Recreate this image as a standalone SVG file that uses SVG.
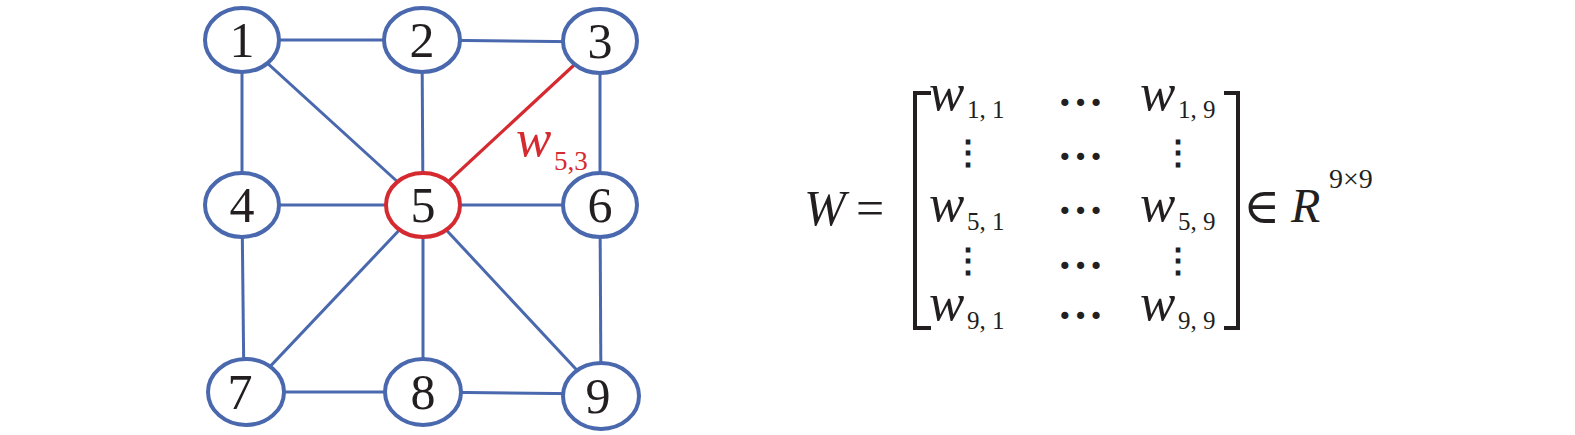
<svg xmlns="http://www.w3.org/2000/svg" width="1575" height="435" viewBox="0 0 1575 435">
<style>
.edge{stroke:#4a68ae;stroke-width:3;fill:none}
.red{stroke:#d42a30;stroke-width:3.2;fill:none}
.node{fill:#fff;stroke:#4a68ae;stroke-width:4}
.nodeR{fill:#fff;stroke:#d42a30;stroke-width:4}
.num{font-size:50px;fill:#231f20;text-anchor:middle}
.it{font-style:italic;fill:#231f20}
.rm{fill:#231f20}
.br{stroke:#231f20;stroke-width:4;fill:none}
</style>
<rect width="1575" height="435" fill="#fff"/>
<g font-family="Liberation Serif, Times New Roman, DejaVu Serif, serif">
<g id="connectors">
<line class="edge" x1="242" y1="40" x2="422" y2="40"/>
<line class="edge" x1="422" y1="40" x2="600" y2="42"/>
<line class="edge" x1="242" y1="40" x2="242" y2="205"/>
<line class="edge" x1="242" y1="40" x2="423" y2="205"/>
<line class="edge" x1="422" y1="40" x2="423" y2="205"/>
<line class="edge" x1="600" y1="41" x2="600" y2="205"/>
<line class="edge" x1="242" y1="205" x2="423" y2="205"/>
<line class="edge" x1="423" y1="205" x2="600" y2="205"/>
<line class="edge" x1="242" y1="205" x2="244" y2="392"/>
<line class="edge" x1="423" y1="205" x2="246" y2="392"/>
<line class="edge" x1="423" y1="205" x2="423" y2="392"/>
<line class="edge" x1="423" y1="205" x2="601" y2="396"/>
<line class="edge" x1="600" y1="205" x2="601" y2="396"/>
<line class="edge" x1="246" y1="392" x2="423" y2="392"/>
<line class="edge" x1="423" y1="392" x2="601" y2="394"/>
<line class="red" x1="600" y1="41" x2="423" y2="205"/>
<text x="516" y="156" font-size="53" font-style="italic" fill="#d42a30">w</text>
<text x="554" y="170" font-size="27" fill="#d42a30">5,3</text>
</g>
<g id="n1"><ellipse class="node" cx="242" cy="40" rx="37" ry="32"/><text class="num" x="242" y="57">1</text></g>
<g id="n2"><ellipse class="node" cx="422" cy="40" rx="38" ry="32"/><text class="num" x="422" y="57">2</text></g>
<g id="n3"><ellipse class="node" cx="600" cy="41" rx="37" ry="32"/><text class="num" x="600" y="58">3</text></g>
<g id="n4"><ellipse class="node" cx="242" cy="205" rx="37" ry="32"/><text class="num" x="242" y="222">4</text></g>
<g id="n5"><ellipse class="nodeR" cx="423" cy="205" rx="37" ry="32"/><text class="num" x="423" y="222">5</text></g>
<g id="n6"><ellipse class="node" cx="600" cy="205" rx="37" ry="32"/><text class="num" x="600" y="222">6</text></g>
<g id="n7"><ellipse class="node" cx="246" cy="392" rx="38" ry="33"/><text class="num" x="240" y="409">7</text></g>
<g id="n8"><ellipse class="node" cx="423" cy="392" rx="38" ry="33"/><text class="num" x="423" y="409">8</text></g>
<g id="n9"><ellipse class="node" cx="601" cy="396" rx="38" ry="33"/><text class="num" x="598" y="413">9</text></g>
<g id="matrix">
<text class="it" x="804" y="225" font-size="50">W</text>
<text class="rm" x="856" y="225" font-size="50">=</text>
<path class="br" d="M931 93 H915 V328 H931"/>
<path class="br" d="M1224 93 H1238 V328 H1224"/>
<text class="it" x="929" y="110" font-size="53">w</text>
<text class="rm" x="967" y="118" font-size="25">1, 1</text>
<text class="it" x="1140" y="110" font-size="53">w</text>
<text class="rm" x="1178" y="118" font-size="25">1, 9</text>
<text class="it" x="929" y="221" font-size="53">w</text>
<text class="rm" x="967" y="230" font-size="25">5, 1</text>
<text class="it" x="1140" y="221" font-size="53">w</text>
<text class="rm" x="1178" y="230" font-size="25">5, 9</text>
<text class="it" x="929" y="320" font-size="53">w</text>
<text class="rm" x="967" y="329" font-size="25">9, 1</text>
<text class="it" x="1140" y="320" font-size="53">w</text>
<text class="rm" x="1178" y="329" font-size="25">9, 9</text>
<g class="rm" font-size="44" font-weight="bold" text-anchor="middle" letter-spacing="1">
<text x="1081" y="117">···</text>
<text x="1081" y="171">···</text>
<text x="1081" y="225">···</text>
<text x="1081" y="280">···</text>
<text x="1081" y="330">···</text>
</g>
<g class="rm" font-size="34" font-weight="bold" text-anchor="middle">
<text x="968" y="164">⋮</text>
<text x="1178" y="164">⋮</text>
<text x="968" y="272">⋮</text>
<text x="1178" y="272">⋮</text>
</g>
<text class="rm" x="1243" y="223" font-size="50">∈</text>
<text class="it" x="1291" y="222" font-size="48">R</text>
<text class="rm" x="1329" y="188" font-size="28">9×9</text>
</g>
</g>
</svg>
